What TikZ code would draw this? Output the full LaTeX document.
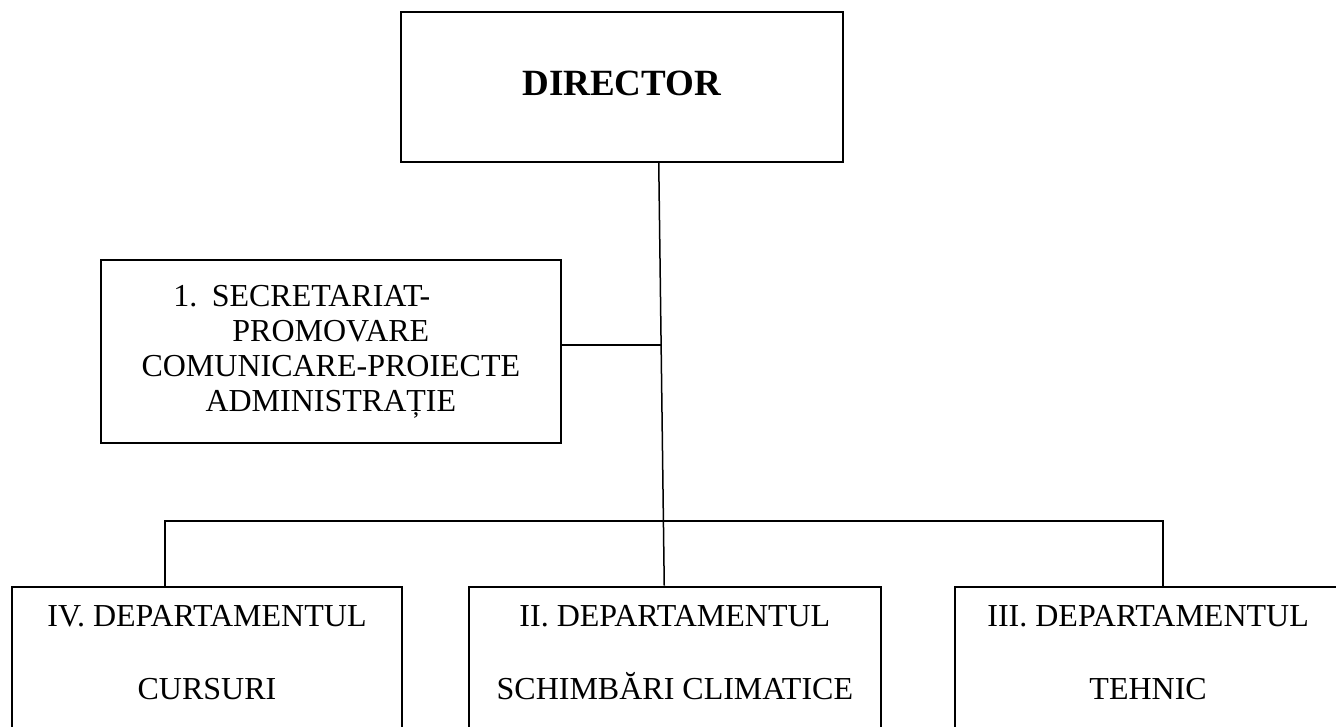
\documentclass[tikz,border=0pt]{standalone}
\usepackage{fontspec}
\setmainfont{Liberation Serif}
\usetikzlibrary{positioning}

\tikzset{
  box/.style={draw, line width=2pt, inner sep=0pt, align=center},
  dept/.style={box, anchor=north, minimum height=200pt},
  lbl/.style={inner sep=0pt, align=center, font=\fontsize{32}{36.6}\selectfont},
  link/.style={line width=1.5pt}
}

\begin{document}
\begin{tikzpicture}[x=1pt,y=-1pt]
\useasboundingbox (0,0) rectangle (1336,727);
\clip (0,0) rectangle (1336,727);

% nodes
\node (dir) [box, minimum width=442.5pt, minimum height=149.5pt, text depth=8pt, font=\bfseries\fontsize{37}{40}\selectfont] at (621.75,87.25) {DIRECTOR};
\node (sec) [box, minimum width=460.3pt, minimum height=183pt, font=\fontsize{32}{35}\selectfont] at (330.85,351.5) {1.\hspace{0.45em}SECRETARIAT-\hspace*{58pt}\\PROMOVARE\hspace*{30pt}\\COMUNICARE-PROIECTE\\ADMINISTRAȚIE};
\node (iv) [dept, minimum width=390pt] at (207,585.7) {};
\node (ii) [dept, minimum width=412.3pt] at (674.85,585.7) {};
\node (iii) [dept, minimum width=386pt] at (1148.1,585.7) {};

% texts of the departments
\node (ivt) [lbl, below=19pt of iv.north] {IV. DEPARTAMENTUL\\[36.6pt]CURSURI};
\node (iit) [lbl, below=19pt of ii.north] {II. DEPARTAMENTUL\\[36.6pt]SCHIMBĂRI CLIMATICE};
\node (iiit) [lbl, below=19pt of iii.north] {III. DEPARTAMENTUL\\[36.6pt]TEHNIC};

% lines
\coordinate (mid) at (661.1,345);
\coordinate (busl) at (165,521);
\coordinate (busr) at (1163,521);
\draw [link] ([xshift=37pt]dir.south) -- ([xshift=-10.6pt]ii.north);
\draw [link] ([yshift=6.5pt]sec.east) -- (mid);
\draw [link] (iv.north -| busl) -- (busl) -- (busr) -- (iii.north -| busr);
\end{tikzpicture}
\end{document}
